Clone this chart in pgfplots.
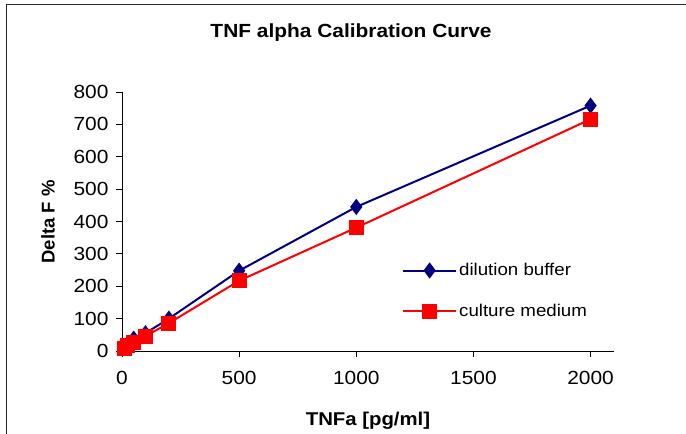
\documentclass[border=0pt]{standalone}
\usepackage{fontspec}
\setmainfont{Liberation Sans}[FakeStretch=1.1]
\newfontfamily\rotfont{Liberation Sans}
\usepackage{pgfplots}
\pgfplotsset{compat=1.18}
\definecolor{navyblue}{HTML}{000080}
\definecolor{xred}{HTML}{FF0000}
\begin{document}
\begin{tikzpicture}
\begin{axis}[
  at={(122bp,83bp)}, anchor=south west,
  scale only axis, width=492bp, height=259bp,
  xmin=0, xmax=2100, ymin=0, ymax=800,
  axis x line*=bottom, axis y line*=left,
  xtick={0,500,1000,1500,2000}, ytick={0,100,200,300,400,500,600,700,800},
  xticklabels={0,500,1000,1500,2000},
  yticklabels={0,100,200,300,400,500,600,700,800},
  tick align=outside, major tick length=6bp,
  tick style={black, line width=0.8bp},
  axis line style={black, line width=0.8bp},
  tick label style={font=\fontsize{19bp}{22bp}\selectfont},
  xticklabel style={yshift=-11bp},
  yticklabel style={xshift=-4bp},
  clip=false,
  legend cell align=left,
  legend style={draw=none, fill=none, inner sep=0pt,
    at={(rel axis cs:0.569,0.232)}, anchor=west,
    font=\fontsize{17bp}{20bp}\selectfont,
    nodes={inner sep=2bp}, row sep=23bp},
  legend image code/.code={
    \draw[mark repeat=2,mark phase=2,#1] plot coordinates {(0bp,0bp) (26.5bp,0bp) (53bp,0bp)};},
]
\addplot[navyblue, line width=2bp, mark=diamond*, mark size=6.5bp, mark options={solid, fill=navyblue}]
coordinates {(12.5,10) (25,22) (50,38) (100,55) (200,100) (500,248) (1000,445) (2000,758)};
\addlegendentry{dilution buffer}
\addplot[xred, line width=2bp, mark=square*, mark size=6.5bp, mark options={solid, fill=xred}]
coordinates {(12.5,8) (25,16) (50,25) (100,46) (200,86) (500,217) (1000,381) (2000,716)};
\addlegendentry{culture medium}
\end{axis}
\node[anchor=base, font=\bfseries\fontsize{19bp}{22bp}\selectfont] at (351bp,396bp) {TNF alpha Calibration Curve};
\node[anchor=base, font=\bfseries\fontsize{18.5bp}{22bp}\selectfont] at (368bp,9bp) {TNFa [pg/ml]};
\node[rotate=90, anchor=center, font=\rotfont\bfseries\fontsize{18.5bp}{22bp}\selectfont] at (48bp,212bp) {Delta F \%};
\draw[line width=1.2bp, black!85] (6.5bp,0bp) -- (6.5bp,429.5bp) -- (686bp,429.5bp);
\pgfresetboundingbox
\path[use as bounding box] (0bp,0bp) rectangle (686bp,434bp);
\end{tikzpicture}
\end{document}
